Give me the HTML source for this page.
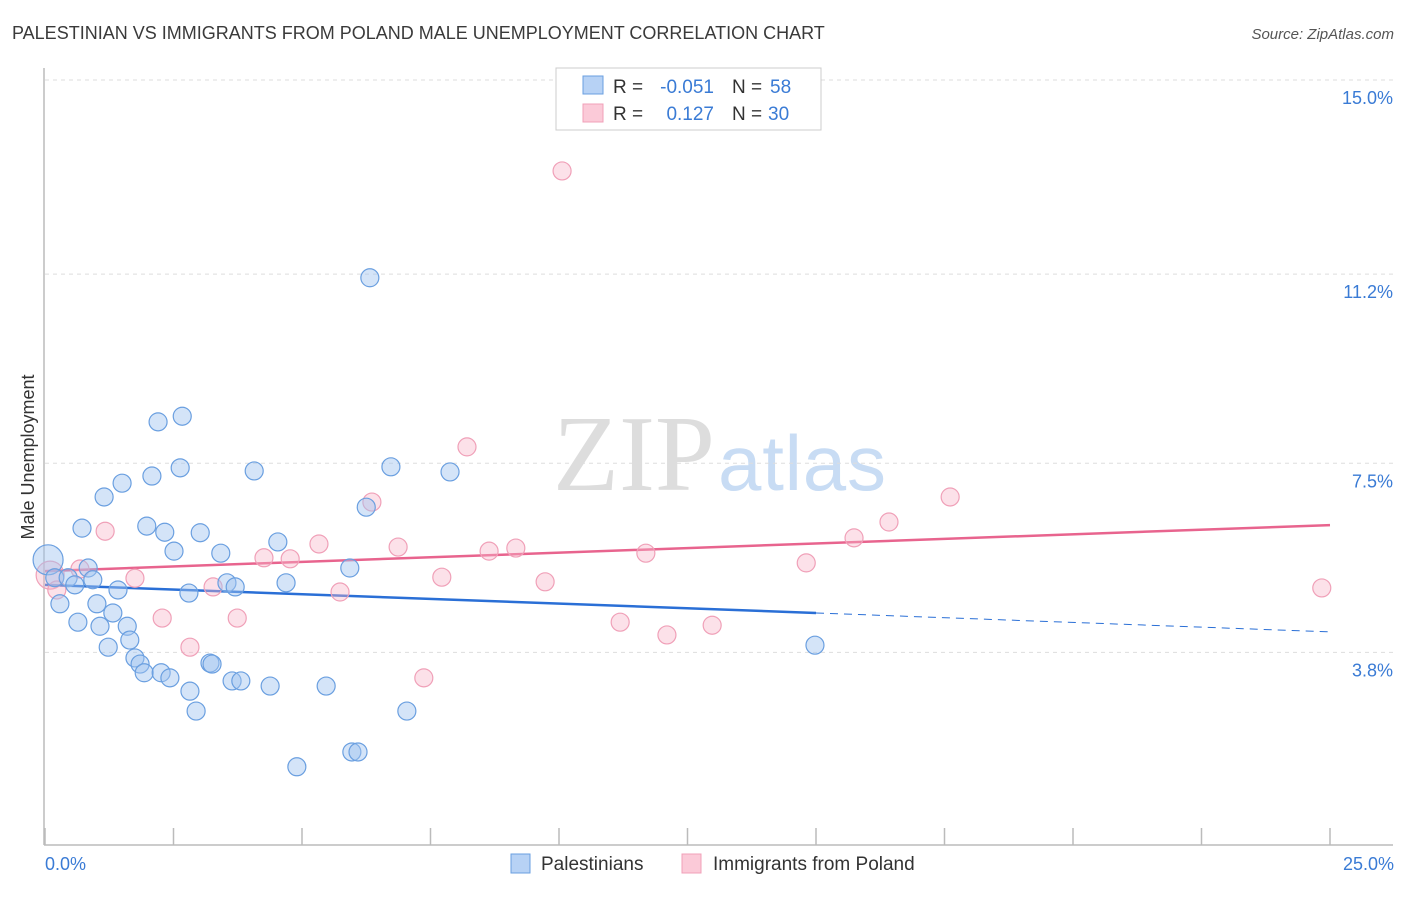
<!DOCTYPE html>
<html><head><meta charset="utf-8"><style>
body{margin:0;background:#fff;font-family:"Liberation Sans",sans-serif;}
</style></head><body>
<svg width="1406" height="892" xmlns="http://www.w3.org/2000/svg" id="chart" style="font-family:'Liberation Sans',sans-serif">
<text x="12" y="39" font-size="18" fill="#3a3a3a">PALESTINIAN VS IMMIGRANTS FROM POLAND MALE UNEMPLOYMENT CORRELATION CHART</text>
<text x="1394" y="39" font-size="15" fill="#555" text-anchor="end" font-style="italic">Source: ZipAtlas.com</text>
<g><text x="553" y="490" font-size="108" fill="#ddd" font-family="Liberation Serif,serif" textLength="162">ZIP</text><text x="718" y="490" font-size="78" fill="#c8dcf4" textLength="168">atlas</text></g>
<g id="grid"></g>
<g id="axes"></g>
<text transform="translate(34,457) rotate(-90)" font-size="18" fill="#333" text-anchor="middle">Male Unemployment</text>
<text x="45" y="870" font-size="18" fill="#3a7bd5">0.0%</text>
<text x="1394" y="870" font-size="18" fill="#3a7bd5" text-anchor="end">25.0%</text>
<g id="lines"></g>
<g id="pts"></g>
<g>
<rect x="556" y="68" width="265" height="62" fill="#fff" stroke="#ccc"/>
<rect x="583" y="76" width="20" height="18" fill="#b7d2f5" stroke="#6a9fe0"/>
<text x="613" y="93" font-size="19" fill="#333">R =</text>
<text x="714" y="93" font-size="19" fill="#3a7bd5" text-anchor="end">-0.051</text>
<text x="732" y="93" font-size="19" fill="#333">N =</text>
<text x="770" y="93" font-size="19" fill="#3a7bd5">58</text>
<rect x="583" y="104" width="20" height="18" fill="#fbcad8" stroke="#f0a0b8"/>
<text x="613" y="120" font-size="19" fill="#333">R =</text>
<text x="714" y="120" font-size="19" fill="#3a7bd5" text-anchor="end">0.127</text>
<text x="732" y="120" font-size="19" fill="#333">N =</text>
<text x="768" y="120" font-size="19" fill="#3a7bd5">30</text>
</g>
<g>
<rect x="511" y="854" width="19" height="19" fill="#b7d2f5" stroke="#6a9fe0"/>
<text x="541" y="870" font-size="19" fill="#333">Palestinians</text>
<rect x="682" y="854" width="19" height="19" fill="#fbcad8" stroke="#f0a0b8"/>
<text x="713" y="870" font-size="19" fill="#333">Immigrants from Poland</text>
</g>
</svg>
<script>
const yTicks=[15.0,11.2,7.5,3.8];
const yTickLabels=["15.0%","11.2%","7.5%","3.8%"];
const xTicks=[0,2.5,5,7.5,10,12.5,15,17.5,20,22.5,25];
const blueX=[.06,.19,.29,.45,.58,.64,.72,.84,.93,1.01,1.07,1.15,1.23,1.32,1.42,1.50,1.60,1.65,1.75,1.85,1.93,1.98,2.08,2.20,2.26,2.33,2.43,2.51,2.63,2.67,2.80,2.82,2.94,3.02,3.21,3.25,3.42,3.54,3.64,3.70,3.81,4.07,4.38,4.53,4.69,4.90,5.47,5.93,5.97,6.09,6.25,6.32,6.73,7.04,7.88,14.98];
const blueY=[5.61,5.26,4.75,5.26,5.12,4.39,6.23,5.45,5.22,4.75,4.31,6.84,3.90,4.57,5.02,7.11,4.31,4.04,3.69,3.57,3.40,6.27,7.25,8.31,3.40,6.15,3.30,5.78,7.41,8.42,4.96,3.04,2.65,6.14,3.59,3.57,5.74,5.16,3.24,5.08,3.24,7.35,3.14,5.96,5.16,1.56,3.14,5.45,1.85,1.85,6.64,11.13,7.43,2.65,7.33,3.94];
const pinkX=[.10,.23,.68,1.17,1.75,2.28,2.82,3.27,3.74,4.26,4.77,5.33,5.74,6.36,6.87,7.37,7.72,8.21,8.64,9.16,9.73,10.06,11.19,11.69,12.10,12.98,14.81,15.74,16.42,17.61,24.84];
const pinkY=[5.31,5.02,5.43,6.17,5.25,4.47,3.90,5.08,4.47,5.65,5.63,5.92,4.98,6.74,5.86,3.30,5.27,7.82,5.78,5.84,5.18,13.22,4.39,5.74,4.14,4.33,5.55,6.04,6.35,6.84,5.06];
const blueTrend=[5.12,4.57,4.20]; // at x=0, 15, 25
const pinkTrend=[5.39,6.29]; // at x=0, 25
const sx=v=>45+v*51.4, sy=v=>80+(15-v)*51.1;
const NS="http://www.w3.org/2000/svg";
function mk(p,t,a){const e=document.createElementNS(NS,t);for(const k in a)e.setAttribute(k,a[k]);p.appendChild(e);return e;}
const grid=document.getElementById('grid'),axes=document.getElementById('axes'),lines=document.getElementById('lines'),pts=document.getElementById('pts');
yTicks.forEach((v,i)=>{
 const l=mk(grid,'line',{x1:45,x2:1393,y1:sy(v),y2:sy(v),stroke:'#ddd','stroke-dasharray':'4,4'});
 
 
 const t=mk(grid,'text',{x:1393,y:sy(v)+24,'font-size':18,fill:'#3a7bd5','text-anchor':'end'});
 t.textContent=yTickLabels[i];
 
 
});
const ya=mk(axes,'line',{x1:44,x2:44,y1:68,y2:845,stroke:'#bbb','stroke-width':1.5});


const xa=mk(axes,'line',{x1:44,x2:1393,y1:845,y2:845,stroke:'#bbb','stroke-width':1.5});


xTicks.forEach(v=>{const t=mk(axes,'line',{x1:sx(v),x2:sx(v),y1:828,y2:845,stroke:'#bbb','stroke-width':1.5});
 
 });
function dot(x,y,fill,stroke,r,name){const c=mk(pts,'circle',{cx:sx(x),cy:sy(y),r:r,fill:fill,stroke:stroke,'stroke-width':1.2});
 
 }
pinkX.forEach((x,i)=>dot(x,pinkY[i],'rgba(248,180,200,0.4)','#f0a0b8',i==0?14:9,'poland-point'));
blueX.forEach((x,i)=>dot(x,blueY[i],'rgba(160,196,240,0.45)','#6a9fe0',i==0?15:9,'palestinian-point'));
let l1=mk(lines,'line',{x1:sx(0),y1:sy(blueTrend[0]),x2:sx(15),y2:sy(blueTrend[1]),stroke:'#2a6fd6','stroke-width':2.5});


let l2=mk(lines,'line',{x1:sx(15),y1:sy(blueTrend[1]),x2:sx(25),y2:sy(blueTrend[2]),stroke:'#2a6fd6','stroke-width':1,'stroke-dasharray':'8,6'});


let l3=mk(lines,'line',{x1:sx(0),y1:sy(pinkTrend[0]),x2:sx(25),y2:sy(pinkTrend[1]),stroke:'#e8648e','stroke-width':2.5});


</script>
</body></html>
